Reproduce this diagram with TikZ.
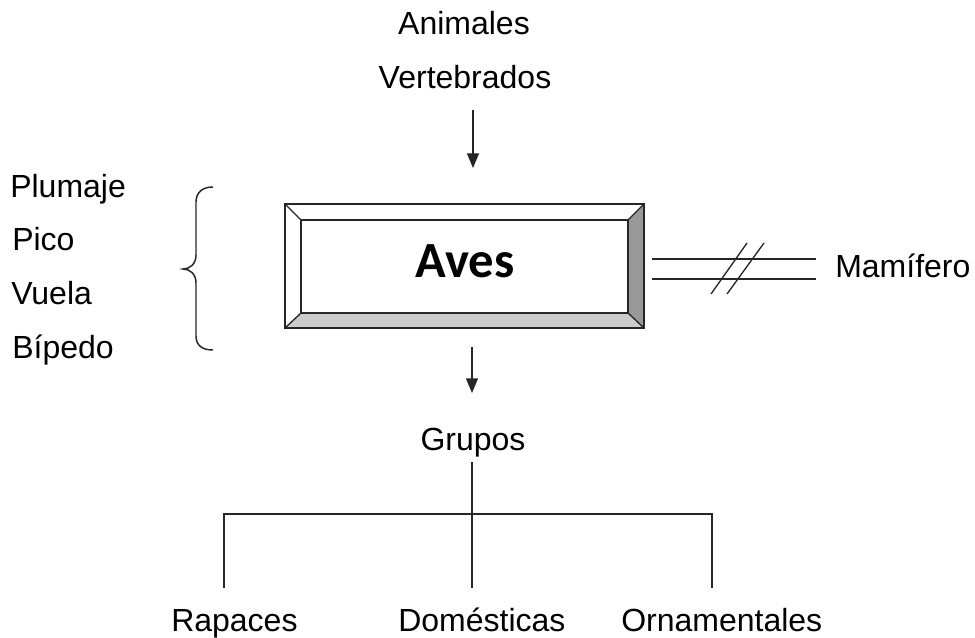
\documentclass[tikz,border=0pt]{standalone}
\usepackage{fontspec}
\setmainfont{Liberation Sans}
\newfontfamily\boxfont{Carlito}
\usetikzlibrary{arrows.meta}
\begin{document}
\begin{tikzpicture}[x=0.75pt,y=-0.75pt,
  lbl/.style={font=\fontsize{24}{28}\selectfont, inner sep=0pt, anchor=base},
  lblw/.style={lbl, anchor=base west},
  conn/.style={line width=1pt, black!85},
  arr/.style={conn, -{Triangle[length=11pt,width=9pt]}},
  bevel/.style={draw=black!85, line width=1pt, line join=miter}]
\useasboundingbox (0,0) rectangle (975,638);

% texts
\node[lbl] (animales) at (464,35) {Animales};
\node[lbl] (vertebrados) at (465,89) {Vertebrados};
\node[lblw] (plumaje) at (10,198) {Plumaje};
\node[lblw] (pico) at (12,251) {Pico};
\node[lblw] (vuela) at (11,304) {Vuela};
\node[lblw] (bipedo) at (12,358) {Bípedo};
\node[lbl] (grupos) at (473,450) {Grupos};
\node[lblw] (mamifero) at (835,277) {Mamífero};
\node[lblw] (rapaces) at (171,631) {Rapaces};
\node[lblw] (domesticas) at (398,631) {Domésticas};
\node[lblw] (ornamentales) at (621,631) {Ornamentales};

% bevelled box
\coordinate (o1) at (285,204); \coordinate (o2) at (644,204);
\coordinate (o3) at (644,328); \coordinate (o4) at (285,328);
\coordinate (i1) at (301,220); \coordinate (i2) at (628,220);
\coordinate (i3) at (628,313); \coordinate (i4) at (301,313);
\fill[white] (o1) -- (o2) -- (i2) -- (i1) -- cycle;
\fill[white] (o1) -- (i1) -- (i4) -- (o4) -- cycle;
\fill[black!40] (o2) -- (o3) -- (i3) -- (i2) -- cycle;
\fill[black!20] (o4) -- (i4) -- (i3) -- (o3) -- cycle;
\draw[bevel] (o1) -- (o2) -- (o3) -- (o4) -- cycle;
\draw[bevel] (i1) -- (i2) -- (i3) -- (i4) -- cycle;
\draw[bevel] (o1) -- (i1) (o2) -- (i2) (o3) -- (i3) (o4) -- (i4);
\node[inner sep=0pt, anchor=base, font=\boxfont\bfseries\fontsize{38}{44}\selectfont] (aves) at (465,277) {Aves};

% arrows
\coordinate (a1s) at (473,110); \coordinate (a1e) at (473,168);
\draw[arr] (a1s) -- (a1e);
\coordinate (a2s) at (472,347); \coordinate (a2e) at (472,393);
\draw[arr] (a2s) -- (a2e);

% brace
\coordinate (bt) at (213,187); \coordinate (btip) at (183,269); \coordinate (bb) at (213,350);
\draw[conn, line width=1.1pt] (bt) .. controls (203,187) and (196,192) .. (196,202)
  -- (196,255) .. controls (196,264) and (190,269) .. (btip)
  .. controls (190,269) and (196,274) .. (196,283)
  -- (196,336) .. controls (196,346) and (203,350) .. (bb);

% not-equal link to Mamifero
\coordinate (m1a) at (652,259); \coordinate (m1b) at (816,259);
\coordinate (m2a) at (652,279); \coordinate (m2b) at (816,279);
\draw[conn] (m1a) -- (m1b) (m2a) -- (m2b);
\coordinate (s1a) at (711,294); \coordinate (s1b) at (747,243);
\coordinate (s2a) at (727,294); \coordinate (s2b) at (764,243);
\draw[conn] (s1a) -- (s1b) (s2a) -- (s2b);

% tree
\coordinate (gtop) at (472,462); \coordinate (gmid) at (472,514);
\coordinate (hl) at (224,514); \coordinate (hr) at (712,514);
\coordinate (vl) at (224,588); \coordinate (vm) at (472,588); \coordinate (vr) at (712,588);
\draw[conn] (gtop) -- (vm);
\draw[conn] (vl) -- (hl) -- (hr) -- (vr);
\end{tikzpicture}
\end{document}
